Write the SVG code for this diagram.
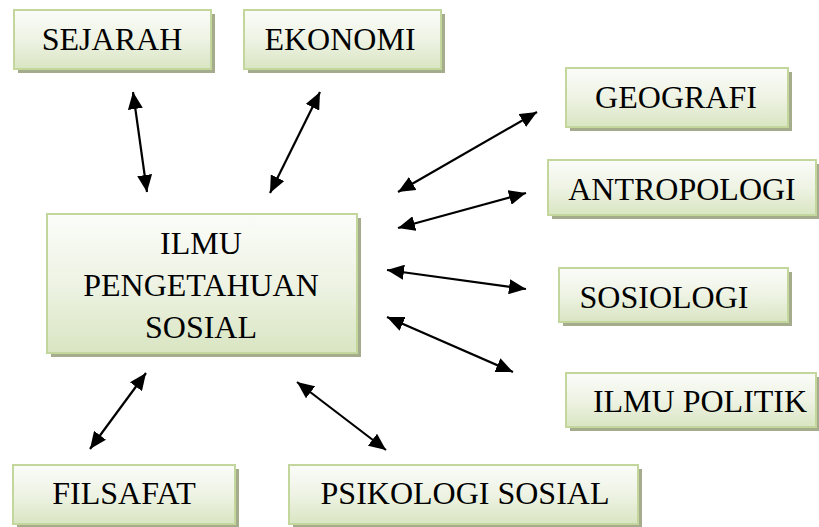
<svg xmlns="http://www.w3.org/2000/svg" width="819" height="527" viewBox="0 0 819 527">
<defs>
<linearGradient id="g" x1="0" y1="0" x2="0" y2="1">
<stop offset="0" stop-color="#fbfcf9"/>
<stop offset="0.5" stop-color="#eef3e4"/>
<stop offset="1" stop-color="#d9e5c2"/>
</linearGradient>
<marker id="ah" viewBox="0 0 17 15" refX="17" refY="7.5" markerWidth="17" markerHeight="15" markerUnits="userSpaceOnUse" orient="auto-start-reverse">
<path d="M0,0 L17,7.5 L0,15 Z" fill="#000"/>
</marker>
<style>
.sh{fill:#a4ac8c}
.bx{fill:url(#g);stroke:#c3d69b;stroke-width:2}
.c line{stroke:#000;stroke-width:2.2;marker-start:url(#ah);marker-end:url(#ah)}
</style>
</defs>
<g id="n-ips">
<rect class="sh" x="51" y="218" width="310" height="139"/>
<rect class="bx" x="47" y="214" width="310" height="139"/>
<text font-family="Liberation Serif" font-size="32" text-anchor="middle" style="font-family:'Liberation Serif',serif" x="201" y="254">ILMU</text>
<text font-family="Liberation Serif" font-size="32" text-anchor="middle" style="font-family:'Liberation Serif',serif" x="201" y="296">PENGETAHUAN</text>
<text font-family="Liberation Serif" font-size="32" text-anchor="middle" style="font-family:'Liberation Serif',serif" x="201" y="338">SOSIAL</text>
</g>
<g id="n-sejarah">
<rect class="sh" x="18" y="14" width="197" height="59"/>
<rect class="bx" x="14" y="10" width="197" height="59"/>
<text font-family="Liberation Serif" font-size="32" text-anchor="middle" style="font-family:'Liberation Serif',serif" x="112" y="50">SEJARAH</text>
</g>
<g id="n-ekonomi">
<rect class="sh" x="248" y="14" width="197" height="59"/>
<rect class="bx" x="244" y="10" width="197" height="59"/>
<text font-family="Liberation Serif" font-size="32" text-anchor="middle" style="font-family:'Liberation Serif',serif" x="340" y="50">EKONOMI</text>
</g>
<g id="n-geografi">
<rect class="sh" x="570" y="72" width="222" height="59"/>
<rect class="bx" x="566" y="68" width="222" height="59"/>
<text font-family="Liberation Serif" font-size="32" text-anchor="middle" style="font-family:'Liberation Serif',serif" x="676" y="108">GEOGRAFI</text>
</g>
<g id="n-antropologi">
<rect class="sh" x="552" y="164" width="268" height="55"/>
<rect class="bx" x="548" y="160" width="268" height="55"/>
<text font-family="Liberation Serif" font-size="32" text-anchor="middle" style="font-family:'Liberation Serif',serif" x="682" y="200">ANTROPOLOGI</text>
</g>
<g id="n-sosiologi">
<rect class="sh" x="563" y="272" width="229" height="54"/>
<rect class="bx" x="559" y="268" width="229" height="54"/>
<text font-family="Liberation Serif" font-size="32" text-anchor="middle" style="font-family:'Liberation Serif',serif" x="664" y="308">SOSIOLOGI</text>
</g>
<g id="n-politik">
<rect class="sh" x="570" y="377" width="250" height="54"/>
<rect class="bx" x="566" y="373" width="250" height="54"/>
<text font-family="Liberation Serif" font-size="32" text-anchor="middle" style="font-family:'Liberation Serif',serif" x="700" y="412">ILMU POLITIK</text>
</g>
<g id="n-filsafat">
<rect class="sh" x="17" y="469" width="222" height="59"/>
<rect class="bx" x="13" y="465" width="222" height="59"/>
<text font-family="Liberation Serif" font-size="32" text-anchor="middle" style="font-family:'Liberation Serif',serif" x="124" y="504">FILSAFAT</text>
</g>
<g id="n-psikologi">
<rect class="sh" x="293" y="469" width="349" height="59"/>
<rect class="bx" x="289" y="465" width="349" height="59"/>
<text font-family="Liberation Serif" font-size="32" text-anchor="middle" style="font-family:'Liberation Serif',serif" x="465" y="504">PSIKOLOGI SOSIAL</text>
</g>
<g id="connectors" class="c">
<line x1="133" y1="92" x2="147" y2="192"/>
<line x1="320" y1="92" x2="270" y2="193"/>
<line x1="537" y1="112" x2="398" y2="192"/>
<line x1="526" y1="193" x2="398" y2="228"/>
<line x1="387" y1="270" x2="526" y2="289"/>
<line x1="387" y1="317" x2="513" y2="372"/>
<line x1="146" y1="373" x2="90" y2="449"/>
<line x1="297" y1="382" x2="386" y2="450"/>
</g>
</svg>
